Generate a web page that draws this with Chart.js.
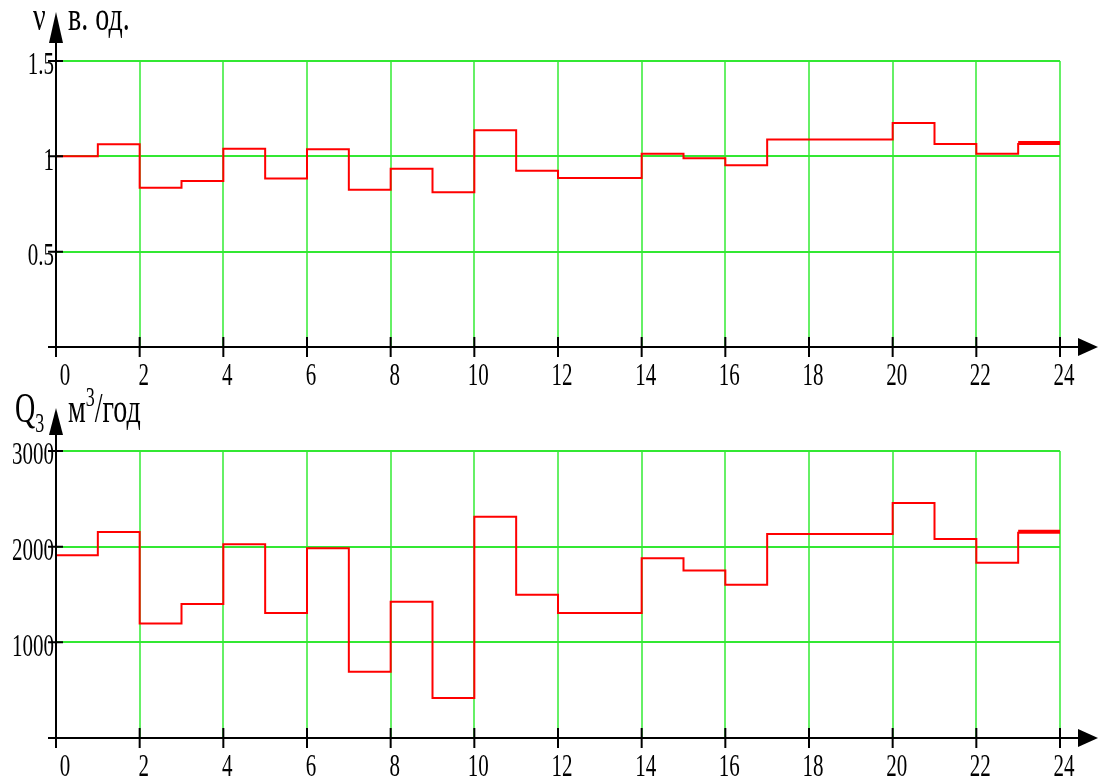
<!DOCTYPE html>
<html>
<head>
<meta charset="utf-8">
<script src="https://cdn.jsdelivr.net/npm/chart.js@4/dist/chart.umd.min.js"></script>
<style>
  body { margin: 0; background: #fff; }
  #wrap { position: relative; width: 1098px; height: 780px; overflow: hidden; }
  canvas { position: absolute; left: 0; }
  .t {
    position: absolute; font: 28px "Liberation Serif", serif; line-height: 28px;
    color: #000; white-space: nowrap; transform: scaleY(1.5); transform-origin: 0 23.5px;
  }
  .t sup, .t sub { font-size: 18px; line-height: 0; }
</style>
</head>
<body>
<div id="wrap">
  <canvas id="nuChart" width="1098" height="390" style="top:0"></canvas>
  <canvas id="qChart" width="1098" height="390" style="top:390px"></canvas>
  <div class="t" style="left:33px;top:7px">ν</div>
  <div class="t" style="left:68px;top:7px">в. од.</div>
  <div class="t" style="left:15px;top:399px">Q<sub>3</sub></div>
  <div class="t" style="left:68px;top:399px">м<sup>3</sup>/год</div>
</div>
<script>
// hours of the day, one value per hour
var hours = [0, 1, 2, 3, 4, 5, 6, 7, 8, 9, 10, 11, 12, 13, 14, 15, 16, 17, 18, 19, 20, 21, 22, 23, 24];
var nuValues = [1.0, 1.063, 0.835, 0.87, 1.04, 0.884, 1.037, 0.825, 0.935, 0.812, 1.137, 0.925,
                0.886, 0.886, 1.014, 0.99, 0.953, 1.088, 1.088, 1.088, 1.175, 1.065, 1.014, 1.07];
var qValues = [1910, 2153, 1198, 1402, 2026, 1307, 1984, 693, 1423, 418, 2312, 1497,
               1307, 1307, 1878, 1751, 1603, 2132, 2132, 2132, 2457, 2079, 1833, 2157];

var hourTicks = [0, 2, 4, 6, 8, 10, 12, 14, 16, 18, 20, 22, 24];
var nuTicks = [0.5, 1, 1.5];
var qTicks = [1000, 2000, 3000];

function stepPoints(vals) {
    var pts = vals.map(function (v, i) { return { x: hours[i], y: v }; });
    pts.push({ x: hours[vals.length], y: vals[vals.length - 1] }); // hold last hour to 24
    return pts;
}

// black axes with arrows, ticks and squeezed serif labels
var axesPlugin = {
    id: 'axes',
    afterDraw: function (chart, args, opts) {
        var ctx = chart.ctx, x = chart.scales.x, y = chart.scales.y;
        var x0 = x.getPixelForValue(0), y0 = y.getPixelForValue(0);
        ctx.save();
        ctx.strokeStyle = '#000';
        ctx.fillStyle = '#000';
        ctx.lineWidth = 2;
        ctx.beginPath();
        ctx.moveTo(x0 - 8, y0); ctx.lineTo(1080, y0);
        ctx.moveTo(x0, y0 + 10); ctx.lineTo(x0, opts.arrowBase);
        x.ticks.forEach(function (t) {
            var px = x.getPixelForValue(t.value);
            ctx.moveTo(px, y0 - 10); ctx.lineTo(px, y0 + 10);
        });
        y.ticks.forEach(function (t) {
            var py = y.getPixelForValue(t.value);
            ctx.moveTo(x0 - 8, py); ctx.lineTo(x0 + 7, py);
        });
        ctx.stroke();

        ctx.beginPath();
        ctx.moveTo(1078, y0 - 9); ctx.lineTo(1098, y0); ctx.lineTo(1078, y0 + 9);
        ctx.closePath(); ctx.fill();
        ctx.beginPath();
        ctx.moveTo(x0 - 7, opts.arrowBase); ctx.lineTo(x0, opts.arrowTip); ctx.lineTo(x0 + 7, opts.arrowBase);
        ctx.closePath(); ctx.fill();

        ctx.font = '21px "Liberation Serif", serif';
        ctx.textBaseline = 'middle';
        ctx.textAlign = 'center';
        x.ticks.forEach(function (t) {
            ctx.save();
            ctx.translate(x.getPixelForValue(t.value) + (t.value === 0 ? 9 : 4), y0 + 30);
            ctx.scale(1, 1.5);
            ctx.fillText(String(t.value), 0, 0);
            ctx.restore();
        });
        ctx.textAlign = 'right';
        y.ticks.forEach(function (t) {
            ctx.save();
            ctx.translate(x0 - 2, y.getPixelForValue(t.value) + 5);
            ctx.scale(1, 1.5);
            ctx.fillText(String(t.value), 0, 0);
            ctx.restore();
        });
        ctx.restore();
    }
};

function makeChart(id, values, yMax, yTicks, arrowTip, arrowBase, padBottom) {
    var ctx = document.getElementById(id).getContext('2d');
    return new Chart(ctx, {
        type: 'line',
        data: {
            datasets: [{
                data: stepPoints(values),
                stepped: true,
                borderColor: '#ff0000',
                borderWidth: 2,
                pointRadius: 0,
                fill: false,
                clip: false,
                segment: {
                    borderWidth: function (c) { return c.p1DataIndex === values.length ? 4 : 2; }
                }
            }]
        },
        options: {
            responsive: false,
            animation: false,
            layout: { padding: { left: 56, right: 38, top: 61, bottom: padBottom } },
            plugins: {
                legend: { display: false },
                tooltip: { enabled: false },
                axes: { arrowTip: arrowTip, arrowBase: arrowBase }
            },
            scales: {
                x: {
                    type: 'linear', min: 0, max: 24,
                    afterBuildTicks: function (s) { s.ticks = hourTicks.map(function (v) { return { value: v }; }); },
                    afterFit: function (s) { s.height = 0; },
                    ticks: { display: false },
                    border: { display: false },
                    grid: { color: '#66f066', lineWidth: 2, drawTicks: false }
                },
                y: {
                    type: 'linear', min: 0, max: yMax,
                    afterBuildTicks: function (s) { s.ticks = yTicks.map(function (v) { return { value: v }; }); },
                    afterFit: function (s) { s.width = 0; },
                    ticks: { display: false },
                    border: { display: false },
                    grid: { color: '#33e833', lineWidth: 2, drawTicks: false }
                }
            }
        },
        plugins: [axesPlugin]
    });
}

makeChart('nuChart', nuValues, 1.5, nuTicks, 12, 43, 43);
makeChart('qChart', qValues, 3000, qTicks, 18, 45, 42);
</script>
</body>
</html>
